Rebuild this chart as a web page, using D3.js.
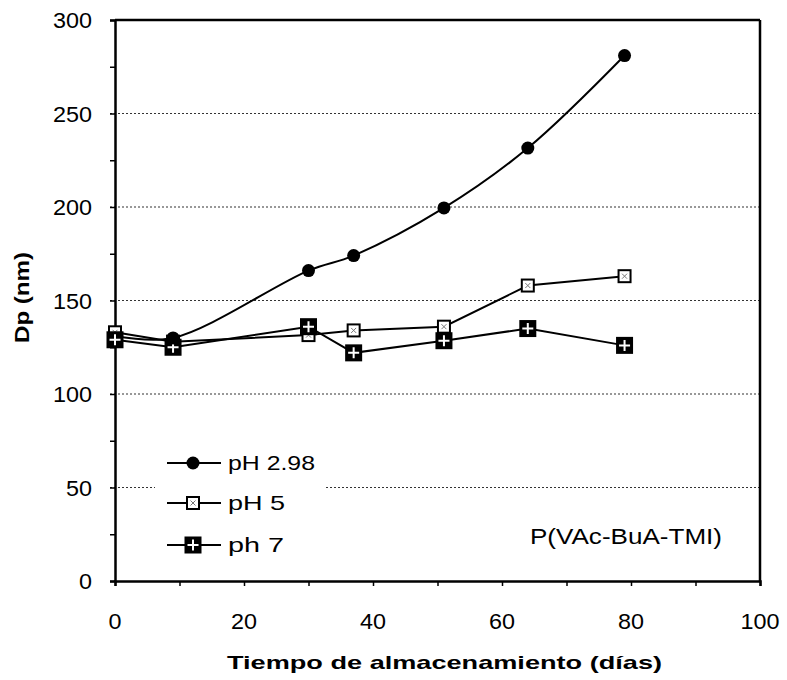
<!DOCTYPE html>
<html><head><meta charset="utf-8">
<script src="https://cdn.jsdelivr.net/npm/d3@7"></script>
<style>body{margin:0;background:#fff}svg{display:block}</style>
</head><body>
<script>
const days = [0, 9, 30, 37, 51, 64, 79];
const ph298 = [131, 130, 166, 174, 199.5, 231.5, 281];
const ph5 = [133, 128, 131.5, 134, 136, 158, 163];
const ph7 = [129, 125, 136, 122, 128.5, 135, 126];
const seriesNames = ["pH 2.98", "pH 5", "ph 7"];
const xTicks = [0, 20, 40, 60, 80, 100];
const yTicks = [0, 50, 100, 150, 200, 250, 300];
const gridVals = [50, 100, 150, 200, 250];

const W = 787, H = 680;
const svg = d3.select("body").append("svg").attr("width", W).attr("height", H);
const x = d3.scaleLinear().domain([0, 100]).range([115, 760]);
const y = d3.scaleLinear().domain([0, 300]).range([581, 20]);
const font = "Arial, 'Liberation Sans', sans-serif";

// gridlines
svg.append("g").selectAll("line").data(gridVals).join("line")
  .attr("x1", x(0) - 5).attr("x2", x(100)).attr("y1", d => y(d)).attr("y2", d => y(d))
  .attr("stroke", "#333").attr("stroke-width", 1.2).attr("stroke-dasharray", "2,2");

// frame top/right
svg.append("line").attr("x1", x(0)).attr("x2", x(100)).attr("y1", y(300)).attr("y2", y(300)).attr("stroke", "#000").attr("stroke-width", 2.5);
svg.append("line").attr("x1", x(100)).attr("x2", x(100)).attr("y1", y(300)).attr("y2", y(0)).attr("stroke", "#000").attr("stroke-width", 2.5);

// axes
const yAxis = d3.axisLeft(y).tickValues(d3.range(0, 301, 25)).tickSize(5).tickFormat("");
const gy = svg.append("g").attr("transform", `translate(${x(0)},0)`).call(yAxis);
const xAxis = d3.axisBottom(x).tickValues(d3.range(0, 101, 10)).tickSize(5).tickFormat("");
const gx = svg.append("g").attr("transform", `translate(0,${y(0)})`).call(xAxis);
[gx, gy].forEach(g => {
  g.select(".domain").attr("stroke", "#000").attr("stroke-width", 2.5);
  g.selectAll(".tick line").attr("stroke", "#000").attr("stroke-width", 1.5);
});

// tick labels
svg.append("g").selectAll("text").data(yTicks).join("text")
  .attr("x", 92).attr("y", d => y(d) + 8).attr("text-anchor", "end")
  .attr("font-family", font).attr("font-size", 22)
  .attr("textLength", d => 13 * String(d).length).attr("lengthAdjust", "spacingAndGlyphs")
  .text(d => d);
svg.append("g").selectAll("text").data(xTicks).join("text")
  .attr("x", d => x(d)).attr("y", 629).attr("text-anchor", "middle")
  .attr("font-family", font).attr("font-size", 22)
  .attr("textLength", d => 13 * String(d).length).attr("lengthAdjust", "spacingAndGlyphs")
  .text(d => d);

// axis titles
svg.append("text").attr("x", 227).attr("y", 669)
  .attr("font-family", font).attr("font-weight", "bold").attr("font-size", 19)
  .attr("textLength", 435).attr("lengthAdjust", "spacingAndGlyphs")
  .text("Tiempo de almacenamiento (días)");
svg.append("text").attr("transform", "translate(29,343) rotate(-90)")
  .attr("font-family", font).attr("font-weight", "bold").attr("font-size", 20)
  .attr("textLength", 91).attr("lengthAdjust", "spacingAndGlyphs")
  .text("Dp (nm)");

// lines
const mk = (arr) => days.map((d, i) => [d, arr[i]]);
const lineSmooth = d3.line().x(d => x(d[0])).y(d => y(d[1])).curve(d3.curveCatmullRom.alpha(0.5));
const lineStraight = d3.line().x(d => x(d[0])).y(d => y(d[1]));
svg.append("path").attr("d", lineStraight(mk(ph5))).attr("fill", "none").attr("stroke", "#000").attr("stroke-width", 2);
svg.append("path").attr("d", lineStraight(mk(ph7))).attr("fill", "none").attr("stroke", "#000").attr("stroke-width", 2);
svg.append("path").attr("d", lineSmooth(mk(ph298))).attr("fill", "none").attr("stroke", "#000").attr("stroke-width", 2);

// marker drawers
function circleMarker(g, cx, cy) {
  g.append("circle").attr("cx", cx).attr("cy", cy).attr("r", 6.5).attr("fill", "#000");
}
function openSquare(g, cx, cy) {
  const s = 12;
  g.append("rect").attr("x", cx - s/2).attr("y", cy - s/2).attr("width", s).attr("height", s)
    .attr("fill", "#fff").attr("stroke", "#000").attr("stroke-width", 2);
  g.append("path").attr("d", `M${cx-2.5},${cy-2.5}L${cx+2.5},${cy+2.5}M${cx+2.5},${cy-2.5}L${cx-2.5},${cy+2.5}`)
    .attr("stroke", "#777").attr("stroke-width", 1);
}
function plusSquare(g, cx, cy) {
  const s = 17;
  g.append("rect").attr("x", cx - s/2).attr("y", cy - s/2).attr("width", s).attr("height", s)
    .attr("fill", "#000");
  g.append("path").attr("d", `M${cx-5.5},${cy}L${cx+5.5},${cy}M${cx},${cy-5.5}L${cx},${cy+5.5}`)
    .attr("stroke", "#fff").attr("stroke-width", 2);
}
const mg = svg.append("g");
days.forEach((d, i) => openSquare(mg, x(d), y(ph5[i])));
days.forEach((d, i) => plusSquare(mg, x(d), y(ph7[i])));
days.forEach((d, i) => { if (i > 0) circleMarker(mg, x(d), y(ph298[i])); });

// legend
const lg = svg.append("g");
lg.append("rect").attr("x", 155).attr("y", 445).attr("width", 170).attr("height", 118).attr("fill", "#fff");
const drawers = [circleMarker, openSquare, plusSquare];
const rowsY = [463, 503, 545];
const legendLen = [87, 57, 56];
seriesNames.forEach((n, i) => {
  lg.append("line").attr("x1", 167).attr("x2", 221).attr("y1", rowsY[i]).attr("y2", rowsY[i])
    .attr("stroke", "#000").attr("stroke-width", 2);
  drawers[i](lg, 193, rowsY[i]);
  lg.append("text").attr("x", 228).attr("y", rowsY[i] + 7).attr("font-family", font)
    .attr("font-size", 21).attr("textLength", legendLen[i]).attr("lengthAdjust", "spacingAndGlyphs").text(n);
});

// annotation
svg.append("text").attr("x", 530).attr("y", 544).attr("font-family", font).attr("font-size", 22)
  .attr("textLength", 192).attr("lengthAdjust", "spacingAndGlyphs")
  .text("P(VAc-BuA-TMI)");
</script>
</body></html>
